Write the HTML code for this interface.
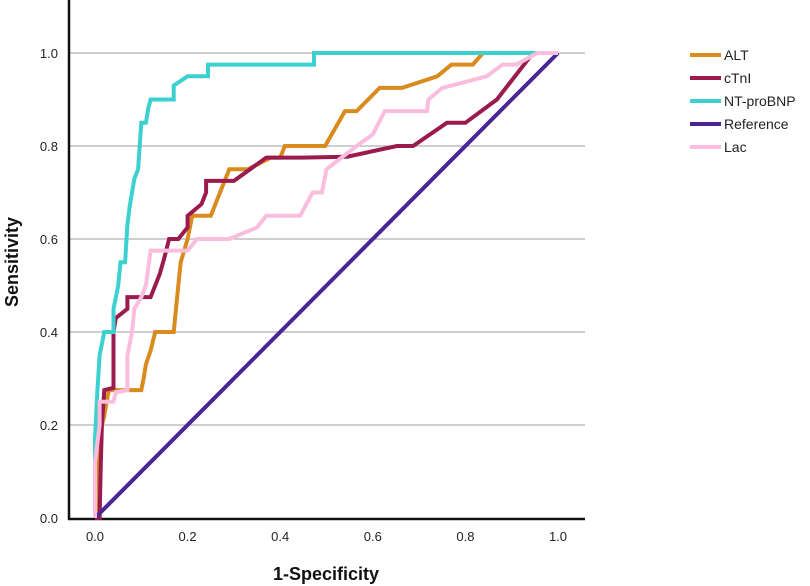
<!DOCTYPE html>
<html><head><meta charset="utf-8"><style>
body{margin:0;background:#fff;}
svg{display:block;font-family:"Liberation Sans",Arial,sans-serif;}
</style></head><body>
<svg id="chart" width="810" height="586" viewBox="0 0 810 586"></svg>
<script>
const xTicks=[0,0.2,0.4,0.6,0.8,1.0];
const yTicks=[0,0.2,0.4,0.6,0.8,1.0];
const seriesNames=["ALT","cTnI","NT-proBNP","Reference","Lac"];
const seriesColors=["#d98b1f","#9b1b4e","#3dd0d0","#4b2596","#f9bedd"];
const altX=[0,0.005,0.005,0.01,0.015,0.02,0.025,0.03,0.1,0.105,0.11,0.12,0.125,0.13,0.17,0.175,0.18,0.185,0.2,0.21,0.25,0.27,0.29,0.33,0.38,0.4,0.41,0.47,0.497,0.54,0.565,0.615,0.663,0.739,0.77,0.816,0.838,1];
const altY=[0,0,0.1,0.18,0.2,0.22,0.25,0.275,0.275,0.3,0.33,0.36,0.38,0.4,0.4,0.45,0.5,0.55,0.6,0.65,0.65,0.7,0.75,0.75,0.775,0.775,0.8,0.8,0.8,0.875,0.875,0.925,0.925,0.95,0.975,0.975,1,1];
const ctniX=[0,0.01,0.012,0.015,0.02,0.04,0.04,0.045,0.07,0.07,0.12,0.13,0.14,0.15,0.16,0.18,0.2,0.2,0.23,0.24,0.24,0.3,0.37,0.445,0.545,0.652,0.687,0.76,0.8,0.868,0.946,1];
const ctniY=[0,0,0.1,0.2,0.275,0.28,0.4,0.43,0.45,0.475,0.475,0.5,0.525,0.56,0.6,0.6,0.625,0.65,0.675,0.7,0.725,0.725,0.775,0.775,0.777,0.8,0.8,0.85,0.85,0.9,1,1];
const ntX=[0,0,0.005,0.01,0.02,0.04,0.04,0.05,0.055,0.065,0.07,0.075,0.08,0.085,0.093,0.1,0.11,0.115,0.12,0.17,0.17,0.2,0.244,0.244,0.473,0.473,1];
const ntY=[0,0.17,0.27,0.35,0.4,0.4,0.45,0.5,0.55,0.55,0.63,0.67,0.7,0.73,0.75,0.85,0.85,0.88,0.9,0.9,0.93,0.95,0.95,0.975,0.975,1,1];
const refX=[0,1];
const refY=[0,1];
const lacX=[0,0,0.01,0.01,0.04,0.045,0.07,0.07,0.08,0.085,0.1,0.11,0.12,0.2,0.22,0.29,0.35,0.37,0.443,0.47,0.49,0.5,0.565,0.6,0.626,0.717,0.72,0.75,0.846,0.88,0.91,0.955,1];
const lacY=[0,0.12,0.2,0.25,0.25,0.27,0.275,0.35,0.4,0.45,0.475,0.5,0.575,0.575,0.6,0.6,0.625,0.65,0.65,0.7,0.7,0.75,0.8,0.825,0.875,0.875,0.9,0.925,0.95,0.975,0.975,1,1];
const allX=[altX,ctniX,ntX,refX,lacX];
const allY=[altY,ctniY,ntY,refY,lacY];

const NS="http://www.w3.org/2000/svg";
const svg=document.getElementById('chart');
const X0=95,X1=558,Y0=518,Y1=53;
const sx=v=>X0+v*(X1-X0);
const sy=v=>Y0-v*(Y0-Y1);
function mk(t,a,p){const e=document.createElementNS(NS,t);for(const k in a)e.setAttribute(k,a[k]);(p||svg).appendChild(e);return e;}

yTicks.forEach((t,i)=>{
  if(t>0){const g=mk('line',{x1:69,x2:585,y1:sy(t),y2:sy(t),stroke:'#b0b0b0','stroke-width':1.2});
  
  }
  const l=mk('text',{x:58,y:sy(t)+5,'text-anchor':'end','font-size':13,fill:'#222'});
  l.textContent=t.toFixed(1);
  
  
});
xTicks.forEach(t=>{
  const l=mk('text',{x:sx(t),y:541,'text-anchor':'middle','font-size':13,fill:'#222'});
  l.textContent=t.toFixed(1);
  
  
});
const ax=mk('path',{d:'M69,0 V519 H585',fill:'none',stroke:'#111','stroke-width':2.5});



allX.forEach((xs,i)=>{
  const d=xs.map((x,j)=>(j?'L':'M')+sx(x).toFixed(1)+','+sy(allY[i][j]).toFixed(1)).join(' ');
  const p=mk('path',{d:d,fill:'none',stroke:seriesColors[i],'stroke-width':4,'stroke-linejoin':'miter'});
  
  
});
// draw order: put cyan on top-ish like reference
seriesNames.forEach((n,i)=>{
  const y=55+i*23;
  const g=mk('g',{});
  
  
  mk('line',{x1:690,x2:721,y1:y,y2:y,stroke:seriesColors[i],'stroke-width':4},g);
  const t=mk('text',{x:724,y:y+5,'font-size':14,fill:'#222'},g);
  t.textContent=n;
});
const xt=mk('text',{x:326,y:580,'text-anchor':'middle','font-size':18,'font-weight':'bold',fill:'#111'});
xt.textContent='1-Specificity';


const yt=mk('text',{x:0,y:0,'text-anchor':'middle','font-size':18,'font-weight':'bold',fill:'#111',transform:'translate(18,262) rotate(-90)'});
yt.textContent='Sensitivity';


</script>
</body></html>
